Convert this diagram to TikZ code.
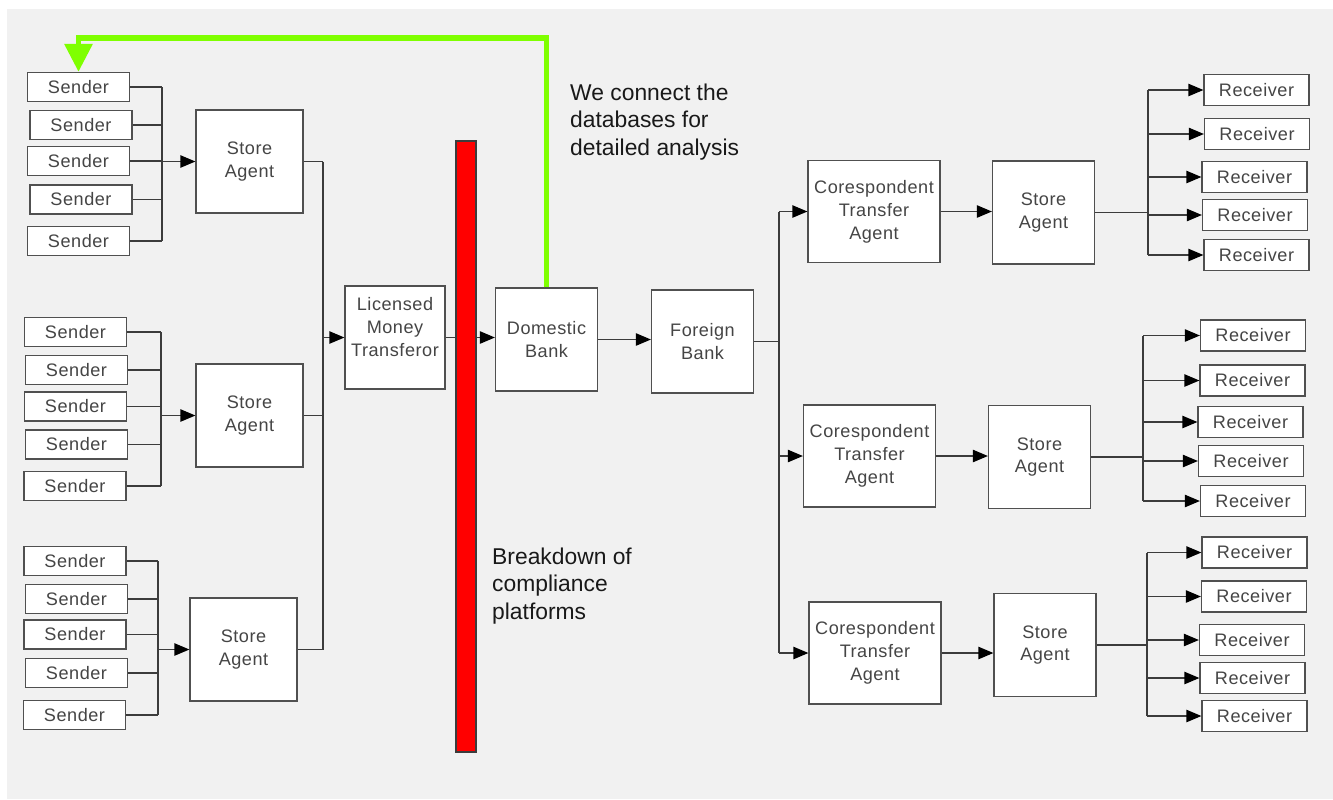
\documentclass[tikz,border=0pt]{standalone}
\usepackage{fontspec}
\setmainfont{Liberation Sans}
\newfontfamily\boxfont[LetterSpace=3]{Liberation Sans}
\usetikzlibrary{arrows.meta}

\definecolor{bggray}{HTML}{F1F1F1}
\definecolor{boxline}{HTML}{505050}
\definecolor{wiregray}{HTML}{3C3C3C}
\definecolor{boxtext}{HTML}{454545}
\definecolor{linkgreen}{HTML}{7FFF00}

\tikzset{
	boxlabel/.style = {align=center, text=boxtext, font={\boxfont\fontsize{10.3}{13}\selectfont}},
	box/.style = {boxlabel, draw=boxline, fill=white, line width=0.7pt, inner sep=0pt},
	sender/.style = {box, minimum width=2.04cm, minimum height=0.58cm},
	receiver/.style = {box, minimum width=2.1cm, minimum height=0.62cm},
	agent/.style = {box, minimum width=2.14cm, minimum height=2.06cm},
	bank/.style = {box, minimum width=2.04cm, minimum height=2.06cm},
	corr/.style = {box, minimum width=2.64cm, minimum height=2.04cm},
	wire/.style = {draw=wiregray, line width=0.7pt},
	feed/.style = {wire, -{Triangle[length=8.5pt, width=7pt, fill=black, color=black]}},
	link/.style = {draw=linkgreen, line width=3.4pt, -{Triangle[length=0.56cm, width=0.54cm]}},
	barrier/.style = {fill=red, draw=wiregray, line width=0.6pt},
	note/.style = {align=left, anchor=west, text=black!90, font={\fontsize{13}{15.5}\selectfont}},
}

\begin{document}
\begin{tikzpicture}[x=0.02cm, y=-0.02cm]
		\useasboundingbox (0,0) rectangle (1333,799);
		\fill[bggray] (7,9) rectangle (1333,799);
		
		\coordinate (bus1) at (162,0);
		\coordinate (bus2) at (161,0);
		\coordinate (bus3) at (158,0);
		\coordinate (merge) at (323,0);
		\coordinate (fan) at (779,0);
		\coordinate (rbus1) at (1148,0);
		\coordinate (rbus2) at (1143,0);
		\coordinate (rbus3) at (1147,0);
		\coordinate (top) at (0,38);
		
		% sending side
		\foreach \x/\y [count=\i] in {78.5/87, 81/125, 78.5/161, 81/199.5, 78.5/241}
			\node[sender] (s1\i) at (\x,\y) {Sender};
		\foreach \x/\y [count=\i] in {75.5/332, 76.5/370, 75.5/406.5, 76.5/444.5, 75/486}
			\node[sender] (s2\i) at (\x,\y) {Sender};
		\foreach \x/\y [count=\i] in {75/561, 76.5/599, 75/634.5, 76.5/673, 74.5/715}
			\node[sender] (s3\i) at (\x,\y) {Sender};
		
		\node[agent] (agent1) at (249.5,161.5) {Store\\Agent};
		\node[agent] (agent2) at (249.5,415.5) {Store\\Agent};
		\node[agent] (agent3) at (243.5,649.5) {Store\\Agent};
		
		\node[bank, minimum width=2cm] (lmt) at (395,337.5) {};
		\node[boxlabel] (lmttext) at ([yshift=0.21cm]lmt.center) {Licensed\\Money\\Transferor};
		\node[bank] (db) at (546.5,339.5) {Domestic\\Bank};
		\node[bank] (fb) at (702.5,341.5) {Foreign\\Bank};
		
		% receiving side
		\node[corr] (corr1) at (874,211.5) {Corespondent\\Transfer\\Agent};
		\node[corr] (corr2) at (869.5,456) {Corespondent\\Transfer\\Agent};
		\node[corr] (corr3) at (875,653) {Corespondent\\Transfer\\Agent};
		
		\node[bank] (store1) at (1043.5,212.5) {Store\\Agent};
		\node[bank] (store2) at (1039.5,457) {Store\\Agent};
		\node[bank] (store3) at (1045,645) {Store\\Agent};
		
		\foreach \x/\y [count=\i] in {1256.5/90, 1257/134, 1254.5/177, 1255/215, 1256.5/255}
			\node[receiver] (r1\i) at (\x,\y) {Receiver};
		\foreach \x/\y [count=\i] in {1253/335.5, 1252.5/380.5, 1250.5/422, 1251/461, 1253/501}
			\node[receiver] (r2\i) at (\x,\y) {Receiver};
		\foreach \x/\y [count=\i] in {1254.5/552.5, 1254/596.5, 1252/640, 1252.5/678, 1254.5/716}
			\node[receiver] (r3\i) at (\x,\y) {Receiver};
		
		% connectors
		\foreach \g in {1,2,3} {
			\foreach \i in {1,...,5}
				\draw[wire] (s\g\i.east) -- (s\g\i.east -| bus\g);
			\draw[wire] (s\g1.east -| bus\g) -- (s\g5.east -| bus\g);
			\draw[feed] (agent\g.west -| bus\g) -- (agent\g.west);
			\draw[wire] (agent\g.east) -- (agent\g.east -| merge);
		}
		\draw[wire] (agent1.east -| merge) -- (agent3.east -| merge);
		\draw[feed] (lmt.west -| merge) -- (lmt.west);
		\draw[feed] (lmt.east) -- (lmt.east -| db.west);
		\draw[barrier] (456,141) rectangle (476,752);
		\draw[feed] (db.east) -- (db.east -| fb.west);
		\draw[wire] (fb.east) -- (fb.east -| fan);
		\draw[wire] (corr1.west -| fan) -- (corr3.west -| fan);
		
		\foreach \g in {1,2,3} {
			\draw[feed] (corr\g.west -| fan) -- (corr\g.west);
			\draw[feed] (corr\g.east) -- (corr\g.east -| store\g.west);
			\draw[wire] (store\g.east) -- (store\g.east -| rbus\g);
			\draw[wire] (r\g1.west -| rbus\g) -- (r\g5.west -| rbus\g);
			\foreach \i in {1,...,5}
				\draw[feed] (r\g\i.west -| rbus\g) -- (r\g\i.west);
		}
		
		\draw[link] (db.north) |- (s11.north |- top) -- (s11.north);
		
		\node[note] (linknote) at (564,122) {We connect the\\databases for\\detailed analysis};
		\node[note] (barnote) at (486,586) {Breakdown of\\compliance\\platforms};
	\end{tikzpicture}
\end{document}
